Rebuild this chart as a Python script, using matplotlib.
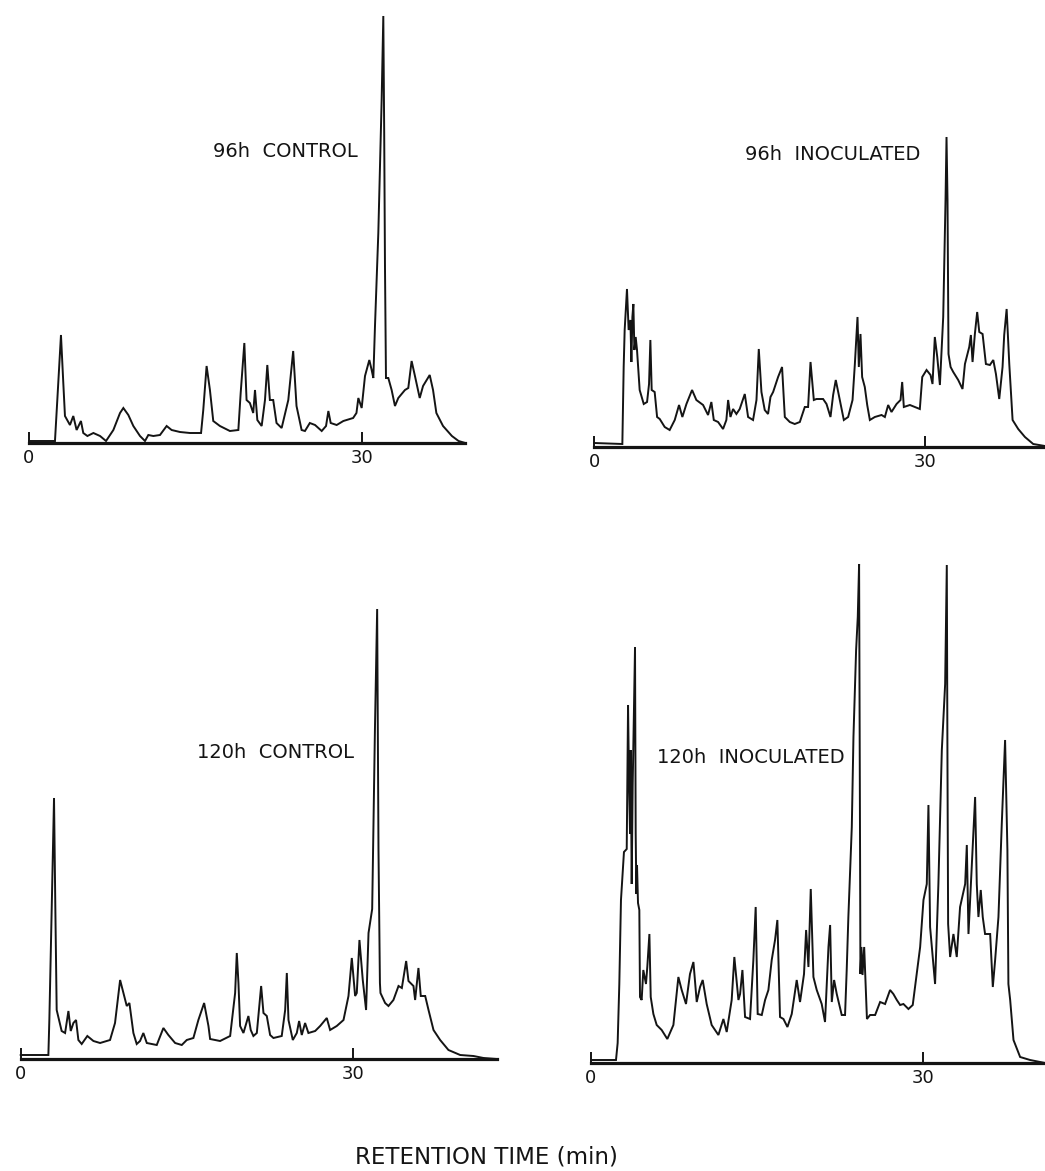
import matplotlib
matplotlib.use('Agg')
import matplotlib.pyplot as plt

# chromatograms: retention time (min) and detector signal (arbitrary units)
t_96c = [0.0, 2.34, 2.55, 2.88, 3.09, 3.24, 3.69, 3.99, 4.29, 4.68, 4.89, 5.26, 5.80, 6.40, 6.94,
         7.60, 8.20, 8.50, 8.95, 9.40, 10.0, 10.45, 10.75, 11.2, 11.8, 12.4, 12.85, 13.6, 14.5,
         15.5, 15.7, 16.0, 16.3, 16.6, 17.2, 18.1, 18.86, 19.07, 19.4, 19.6, 19.9, 20.2, 20.36,
         20.57, 20.96, 21.26, 21.47, 21.7, 22.0, 22.3, 22.76, 23.36, 23.8, 24.1, 24.56, 24.86,
         25.3, 25.77, 26.37, 26.76, 26.97, 27.18, 27.72, 28.32, 29.2, 29.5, 29.67, 29.97, 30.27,
         30.66, 30.87, 31.02, 31.17, 31.47, 31.77, 31.92, 32.0, 32.07, 32.16, 32.37, 32.67, 32.97,
         33.27, 33.87, 34.17, 34.47, 34.77, 35.2, 35.5, 36.1, 36.4, 36.7, 37.3, 38.1, 38.7, 39.3]
s_96c = [2, 2, 43, 108, 60, 27, 18, 27, 13, 22, 10, 7, 10, 7, 2,
         13, 30, 35, 28, 17, 7, 2, 8, 7, 8, 17, 13, 11, 10,
         10, 33, 77, 53, 22, 17, 12, 13, 50, 100, 43, 40, 30, 53,
         23, 17, 43, 78, 43, 43, 20, 15, 43, 92, 37, 13, 12,
         20, 18, 12, 17, 32, 20, 18, 22, 25, 30, 45, 35, 67,
         83, 73, 65, 117, 210, 343, 427, 310, 177, 65, 65, 53, 37,
         45, 53, 55, 82, 67, 45, 57, 68, 53, 30, 17, 7, 2, 0]

t_96i = [0.0, 2.57, 2.69, 2.78, 2.99, 3.14, 3.30, 3.39, 3.48, 3.57, 3.66, 3.78, 3.90, 4.14, 4.51,
         4.81, 4.99, 5.11, 5.23, 5.50, 5.72, 5.96, 6.41, 6.86, 7.32, 7.71, 8.01, 8.38, 8.89,
         9.28, 9.89, 10.34, 10.64, 10.86, 11.25, 11.70, 12.0, 12.16, 12.37, 12.61, 12.91, 13.21,
         13.67, 13.97, 14.42, 14.73, 14.94, 15.18, 15.48, 15.78, 16.0, 16.24, 16.69, 17.05, 17.30,
         17.75, 18.20, 18.66, 19.11, 19.41, 19.63, 19.93, 20.17, 20.77, 21.08, 21.44, 21.68, 21.92,
         22.29, 22.65, 23.04, 23.44, 23.65, 23.89, 24.01, 24.16, 24.31, 24.55, 24.77, 25.01, 25.46,
         26.07, 26.37, 26.67, 26.97, 27.43, 27.79, 27.94, 28.09, 28.64, 29.54, 29.76, 30.15, 30.51,
         30.69, 30.90, 31.12, 31.36, 31.66, 31.87, 31.96, 32.05, 32.14, 32.33, 32.57, 33.02, 33.41,
         33.63, 34.02, 34.17, 34.32, 34.53, 34.74, 34.93, 35.23, 35.53, 35.89, 36.20, 36.44, 36.74,
         37.04, 37.19, 37.41, 37.65, 37.95, 38.46, 39.07, 39.82, 40.88]
s_96i = [4, 3, 80, 117, 158, 117, 127, 85, 130, 143, 97, 110, 97, 57, 43,
         45, 63, 107, 57, 55, 30, 28, 20, 17, 27, 42, 30, 43, 57,
         47, 42, 32, 45, 27, 25, 18, 27, 47, 30, 38, 33, 38,
         53, 30, 27, 47, 98, 55, 37, 33, 50, 55, 70, 80, 30,
         25, 23, 25, 40, 40, 85, 47, 48, 48, 43, 30, 52, 67,
         47, 27, 30, 47, 83, 130, 80, 113, 70, 60, 42, 27, 30,
         32, 30, 42, 35, 43, 47, 65, 40, 42, 38, 70, 77, 72,
         63, 110, 90, 62, 130, 247, 310, 247, 93, 80, 75, 67, 58,
         83, 100, 112, 85, 113, 135, 115, 113, 83, 82, 87, 73, 48,
         80, 112, 138, 83, 27, 18, 10, 3, 1]

t_120c = [0.0, 2.50, 2.59, 2.80, 3.01, 3.13, 3.25, 3.70, 4.01, 4.31, 4.52, 4.76, 5.0, 5.21, 5.51,
          6.02, 6.57, 7.17, 8.07, 8.52, 8.98, 9.28, 9.58, 9.82, 10.18, 10.48, 10.78, 11.08, 11.39,
          12.29, 12.89, 13.34, 13.95, 14.55, 15.0, 15.6, 16.05, 16.57, 16.96, 17.11, 18.01, 18.92,
          19.37, 19.52, 19.67, 19.82, 20.12, 20.57, 20.78, 21.02, 21.33, 21.72, 21.93, 22.23, 22.53,
          22.83, 23.58, 23.89, 24.04, 24.19, 24.58, 24.94, 25.15, 25.39, 25.69, 25.99, 26.60, 27.05,
          27.65, 27.95, 28.55, 29.16, 29.61, 29.91, 30.21, 30.36, 30.60, 30.90, 31.20, 31.42, 31.75,
          32.0, 32.2, 32.32, 32.45, 32.5, 32.92, 33.22, 33.67, 34.13, 34.43, 34.82, 35.03, 35.48,
          35.63, 35.93, 36.14, 36.54, 36.84, 37.29, 37.89, 38.64, 39.70, 40.90, 41.81, 43.0]
s_120c = [4, 4, 40, 150, 261, 150, 49, 28, 26, 48, 28, 36, 39, 19, 15,
          23, 18, 16, 19, 36, 79, 66, 53, 56, 26, 15, 18, 26, 16,
          14, 31, 24, 16, 14, 19, 21, 39, 56, 33, 20, 18, 23,
          66, 106, 76, 33, 26, 43, 29, 23, 26, 73, 46, 43, 24,
          21, 23, 49, 86, 39, 19, 26, 38, 24, 36, 26, 28, 33,
          41, 29, 33, 39, 63, 101, 63, 66, 119, 79, 49, 126, 150,
          330, 450, 210, 76, 66, 56, 53, 59, 73, 71, 98, 78, 73,
          59, 91, 63, 63, 49, 29, 19, 9, 4, 3, 1, 0]

t_120i = [0.0, 2.26, 2.41, 2.56, 2.71, 2.98, 3.23, 3.35, 3.44, 3.53, 3.59, 3.68, 3.77, 3.98, 4.04,
          4.10, 4.16, 4.25, 4.37, 4.43, 4.58, 4.73, 4.97, 5.09, 5.28, 5.40, 5.64, 5.94, 6.39,
          6.90, 7.45, 7.90, 8.20, 8.59, 8.95, 9.26, 9.56, 9.86, 10.10, 10.46, 10.91, 11.52, 11.97,
          12.27, 12.72, 12.96, 13.33, 13.48, 13.69, 13.93, 14.38, 14.68, 14.89, 15.07, 15.44, 15.74,
          16.04, 16.34, 16.64, 16.85, 17.09, 17.40, 17.76, 18.15, 18.60, 18.90, 19.26, 19.45, 19.66,
          19.87, 20.11, 20.41, 20.86, 21.16, 21.47, 21.62, 21.77, 21.98, 22.22, 22.67, 22.97, 23.12,
          23.27, 23.58, 23.73, 23.97, 24.12, 24.24, 24.30, 24.33, 24.36, 24.45, 24.55, 24.70, 24.95,
          25.23, 25.69, 26.14, 26.59, 27.04, 27.34, 27.65, 27.95, 28.25, 28.70, 29.09, 29.45, 29.76,
          30.06, 30.36, 30.51, 30.66, 31.11, 31.41, 31.72, 32.02, 32.17, 32.23, 32.29, 32.47, 32.77,
          33.07, 33.37, 33.83, 33.98, 34.13, 34.52, 34.73, 34.88, 35.03, 35.24, 35.42, 35.63, 36.09,
          36.33, 36.54, 36.84, 37.14, 37.44, 37.65, 37.74, 37.90, 38.20, 38.80, 39.70, 41.06]
s_120i = [3, 3, 20, 79, 163, 211, 214, 358, 279, 229, 313, 179, 279, 416, 230,
          169, 198, 160, 153, 66, 63, 93, 79, 96, 129, 66, 49, 38, 33,
          24, 38, 86, 73, 59, 89, 101, 61, 76, 83, 59, 38, 28, 44,
          31, 63, 106, 63, 69, 93, 46, 44, 103, 156, 49, 48, 63,
          73, 103, 123, 143, 46, 44, 36, 49, 83, 61, 89, 133, 96,
          174, 86, 73, 59, 41, 116, 138, 61, 83, 69, 48, 48, 93,
          146, 236, 326, 413, 446, 499, 313, 203, 89, 116, 88, 116, 44,
          48, 48, 61, 59, 73, 69, 63, 58, 59, 54, 58, 89, 116,
          163, 179, 258, 136, 79, 179, 313, 379, 498, 300, 139, 106, 129,
          106, 156, 179, 218, 129, 219, 266, 179, 146, 173, 146, 129, 129,
          76, 103, 146, 239, 323, 213, 79, 63, 23, 6, 3, 0]

titles = ['96h  CONTROL', '96h  INOCULATED', '120h  CONTROL', '120h  INOCULATED']
xticks = [0, 30]

W, H = 1045, 1171
fig = plt.figure(figsize=(W / 100, H / 100), dpi=100)
ink = '#141414'

# (origin x px, baseline y px, px per min, xlim, ylim, axis end, label pos)
panels = [
    (t_96c, s_96c, 29, 443, 11.1, (-1.5, 41.0), (-35, 440), 39.3, (16.6, 286)),
    (t_96i, s_96i, 594, 447, 11.03, (-1.5, 40.9), (-35, 444), 40.9, (13.7, 287)),
    (t_120c, s_120c, 20.7, 1059, 11.07, (-1.5, 44.0), (-35, 500), 43.0, (15.9, 301)),
    (t_120i, s_120i, 591, 1063, 11.06, (-1.5, 41.05), (-35, 505), 41.05, (6.0, 300)),
]

for (t, s, x0, y0, k, xl, yl, xend, lab), title in zip(panels, titles):
    left = x0 + xl[0] * k
    right = x0 + xl[1] * k
    top = y0 - yl[1]
    bottom = y0 - yl[0]
    ax = fig.add_axes([left / W, 1 - bottom / H, (right - left) / W, (bottom - top) / H])
    ax.set_xlim(*xl)
    ax.set_ylim(*yl)
    ax.patch.set_alpha(0)
    ax.plot(t, s, color=ink, lw=1.4, solid_joinstyle='miter', clip_on=False)
    for side in ['top', 'right', 'left']:
        ax.spines[side].set_visible(False)
    ax.spines['bottom'].set_position(('data', 0))
    ax.spines['bottom'].set_bounds(0, xend)
    ax.spines['bottom'].set_linewidth(2.3)
    ax.spines['bottom'].set_color(ink)
    ax.set_yticks([])
    ax.set_xticks(xticks)
    ax.set_xticklabels([str(v) for v in xticks])
    ax.tick_params(axis='x', direction='in', length=8, width=1.4, color=ink,
                   pad=4, labelsize=13, labelcolor=ink)
    ax.text(lab[0], lab[1], title, fontsize=14, color=ink, ha='left', va='baseline')

fig.text(486 / W, 1 - 1157 / H, 'RETENTION TIME (min)', fontsize=16.5, color=ink,
         ha='center', va='center')

fig.savefig('out.png', dpi=100, facecolor='white')
